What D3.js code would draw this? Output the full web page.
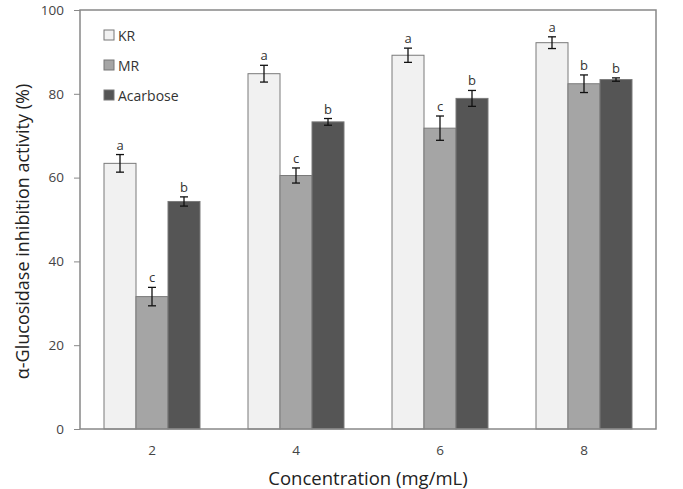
<!DOCTYPE html>
<meta charset="utf-8">
<style>
body { margin: 0; background: #fff; }
text { font-family: "Open Sans", sans-serif; }
</style>
<body>
<svg width="683" height="489"></svg>
<script src="https://d3js.org/d3.v7.min.js"></script>
<script>

var concentrations = ["2", "4", "6", "8"];
var series = ["KR", "MR", "Acarbose"];
var krValues = [63.4, 84.8, 89.2, 92.2];
var mrValues = [31.6, 60.5, 71.8, 82.4];
var acarboseValues = [54.3, 73.3, 78.9, 83.4];
var krErrors = [2.1, 2.0, 1.7, 1.4];
var mrErrors = [2.2, 1.8, 2.9, 2.1];
var acarboseErrors = [1.1, 0.8, 1.9, 0.4];
var krLetters = ["a", "a", "a", "a"];
var mrLetters = ["c", "c", "c", "b"];
var acarboseLetters = ["b", "b", "b", "b"];
var yTicks = [0, 20, 40, 60, 80, 100];

var colors = {"KR": "#f1f1f1", "MR": "#a5a5a5", "Acarbose": "#555555"};

var margin = {top: 10, right: 27, bottom: 60, left: 80},
    width = 683 - margin.left - margin.right,
    height = 489 - margin.top - margin.bottom;

var svg = d3.select("svg");
var g = svg.append("g")
  .attr("transform", "translate(" + margin.left + "," + margin.top + ")");

var x0 = d3.scaleBand().domain(concentrations).range([0, width])
  .paddingInner(1/3).paddingOuter(1/6);
var x1 = d3.scaleBand().domain(series).range([0, x0.bandwidth()]);
var y = d3.scaleLinear().domain([0, 100]).range([height, 0]);

var rows = [];
concentrations.forEach(function(c, i) {
  rows.push({c: c, s: "KR", v: krValues[i], e: krErrors[i], l: krLetters[i]});
  rows.push({c: c, s: "MR", v: mrValues[i], e: mrErrors[i], l: mrLetters[i]});
  rows.push({c: c, s: "Acarbose", v: acarboseValues[i], e: acarboseErrors[i], l: acarboseLetters[i]});
});

// bars
g.selectAll(".bar").data(rows).enter().append("rect")
  .attr("class", "bar")
  .attr("x", function(d) { return x0(d.c) + x1(d.s); })
  .attr("y", function(d) { return y(d.v); })
  .attr("width", x1.bandwidth())
  .attr("height", function(d) { return height - y(d.v); })
  .attr("fill", function(d) { return colors[d.s]; })
  .attr("stroke", "#7a7a7a")
  .attr("stroke-width", 1);

// error bars
var cx = function(d) { return x0(d.c) + x1(d.s) + x1.bandwidth() / 2; };
var eb = g.selectAll(".err").data(rows).enter().append("g").attr("class", "err")
  .attr("stroke", "#111").attr("stroke-width", 1.3);
eb.append("line")
  .attr("x1", cx).attr("x2", cx)
  .attr("y1", function(d) { return y(d.v + d.e); })
  .attr("y2", function(d) { return y(d.v - d.e); });
eb.append("line")
  .attr("x1", function(d) { return cx(d) - 4; })
  .attr("x2", function(d) { return cx(d) + 4; })
  .attr("y1", function(d) { return y(d.v + d.e); })
  .attr("y2", function(d) { return y(d.v + d.e); });
eb.append("line")
  .attr("x1", function(d) { return cx(d) - 4; })
  .attr("x2", function(d) { return cx(d) + 4; })
  .attr("y1", function(d) { return y(d.v - d.e); })
  .attr("y2", function(d) { return y(d.v - d.e); });

// letters
g.selectAll(".letter").data(rows).enter().append("text")
  .attr("class", "letter")
  .attr("x", cx)
  .attr("y", function(d) { return y(d.v + d.e) - 5; })
  .attr("text-anchor", "middle")
  .attr("font-size", 13)
  .attr("fill", "#333")
  .text(function(d) { return d.l; });

// frame
g.append("rect")
  .attr("width", width).attr("height", height)
  .attr("fill", "none").attr("stroke", "#888").attr("stroke-width", 1.5);

// y axis
var yAxis = d3.axisLeft(y).tickValues(yTicks).tickSize(6).tickPadding(10);
var gY = g.append("g").call(yAxis);
gY.select(".domain").remove();
gY.selectAll(".tick line").attr("stroke", "#888");
gY.selectAll(".tick text").attr("font-size", 13.5).attr("fill", "#444")
  .attr("font-family", "Open Sans, sans-serif");

// x axis
var xAxis = d3.axisBottom(x0).tickSize(0).tickPadding(16);
var gX = g.append("g").attr("transform", "translate(0," + height + ")").call(xAxis);
gX.select(".domain").remove();
gX.selectAll(".tick text").attr("font-size", 13.5).attr("fill", "#444")
  .attr("font-family", "Open Sans, sans-serif");

// axis titles
svg.append("text")
  .attr("transform", "translate(29," + (margin.top + height / 2 + 12) + ") rotate(-90)")
  .attr("text-anchor", "middle")
  .attr("font-size", 18)
  .attr("fill", "#222")
  .text("\u03b1-Glucosidase inhibition activity (%)");

svg.append("text")
  .attr("x", margin.left + width / 2)
  .attr("y", 485)
  .attr("text-anchor", "middle")
  .attr("font-size", 18.5)
  .attr("fill", "#222")
  .text("Concentration (mg/mL)");

// legend
var legend = g.selectAll(".legend").data(series).enter().append("g")
  .attr("class", "legend")
  .attr("transform", function(d, i) { return "translate(24," + (20 + i * 30) + ")"; });
legend.append("rect")
  .attr("width", 10).attr("height", 10)
  .attr("fill", function(d) { return colors[d]; })
  .attr("stroke", "#777");
legend.append("text")
  .attr("x", 14).attr("y", 10.5)
  .attr("font-size", 14)
  .attr("fill", "#333")
  .text(function(d) { return d; });

</script>
</body>
